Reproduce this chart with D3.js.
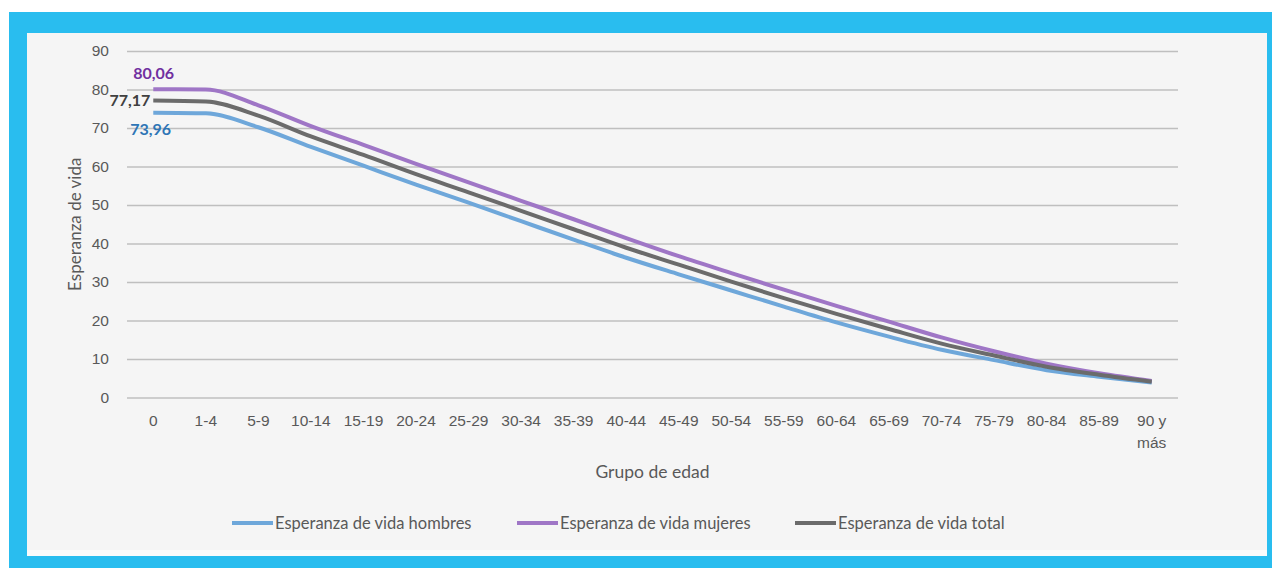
<!DOCTYPE html>
<html>
<head>
<meta charset="utf-8">
<script src="https://cdn.jsdelivr.net/npm/d3@7"></script>
<style>
body { margin:0; background:#fff; }
svg { display:block; font-family: Lato, "Open Sans", sans-serif; }
.grid line { stroke:#bfbfbf; stroke-width:1.5; }
.grid .domain { display:none; }
.axis text { fill:#595959; font-size:15.5px; }
</style>
</head>
<body>
<svg id="chart" width="1272" height="568"></svg>
<script>
var grupos = ["0","1-4","5-9","10-14","15-19","20-24","25-29","30-34","35-39","40-44","45-49","50-54","55-59","60-64","65-69","70-74","75-79","80-84","85-89","90 y más"];
var hombres = [73.96,73.8,70.2,65.1,60.2,55.3,50.6,45.8,41.0,36.3,32.0,27.8,23.6,19.5,15.8,12.4,9.7,7.1,5.4,3.9];
var mujeres = [80.06,80.0,75.9,70.5,65.6,60.7,55.9,51.1,46.3,41.4,36.7,32.3,28.0,23.8,19.7,15.6,12.0,8.8,6.3,4.3];
var total = [77.17,76.9,73.2,67.8,63.0,58.0,53.3,48.5,43.7,38.9,34.5,30.1,25.8,21.7,17.8,14.0,10.9,8.0,5.9,4.1];
var yTicks = [0,10,20,30,40,50,60,70,80,90];
var series = [
	{name:"Esperanza de vida hombres", values:hombres, color:"#6ea7da", label:"73,96", labelColor:"#2e75b6"},
	{name:"Esperanza de vida mujeres", values:mujeres, color:"#9f76c6", label:"80,06", labelColor:"#7030a0"},
	{name:"Esperanza de vida total", values:total, color:"#6b6b6b", label:"77,17", labelColor:"#404040"}
];

var svg = d3.select("#chart");

// marco azul y panel
svg.append("rect").attr("x",9).attr("y",12).attr("width",1263).attr("height",556).attr("fill","#29bdef");
svg.append("rect").attr("x",27).attr("y",33).attr("width",1240).attr("height",523).attr("fill","#fbfbfb");
svg.append("rect").attr("x",27).attr("y",33).attr("width",1240).attr("height",517).attr("fill","#f5f5f5");

var dim = {left:127, right:1178, top:51, bottom:397.5};

var x = d3.scaleBand().domain(grupos).range([dim.left, dim.right]).paddingInner(0);
var cx = function(d) { return x(d) + x.bandwidth()/2; };
var y = d3.scaleLinear().domain([0,90]).range([dim.bottom, dim.top]);

// grid + eje y
var gy = svg.append("g")
	.attr("class","grid axis")
	.attr("transform","translate(" + dim.left + ",0)")
	.call(d3.axisLeft(y).tickValues(yTicks).tickSize(-(dim.right-dim.left)).tickPadding(18));
gy.selectAll(".tick line").attr("stroke", function(d) { return d===0 ? "#d9d9d9" : "#bfbfbf"; });

// eje x
var gx = svg.append("g")
	.attr("class","axis")
	.attr("transform","translate(0," + dim.bottom + ")")
	.call(d3.axisBottom(x).tickSize(0).tickPadding(17));
gx.select(".domain").remove();
gx.selectAll(".tick text").each(function(d) {
	var t = d3.select(this);
	if (d.indexOf(" y ")>0) {
		var parts = d.split(" y ");
		t.text(null);
		t.append("tspan").attr("x",0).text(parts[0] + " y");
		t.append("tspan").attr("x",0).attr("dy","1.45em").text(parts[1]);
	}
});

// lineas
var line = d3.line()
	.x(function(d, i) { return cx(grupos[i]); })
	.y(function(d) { return y(d); })
	.curve(d3.curveMonotoneX);

series.forEach(function(s) {
	svg.append("path")
		.datum(s.values)
		.attr("fill","none")
		.attr("stroke",s.color)
		.attr("stroke-width",4)
		.attr("stroke-linejoin","round")
		.attr("d",line);
});

// etiquetas de datos
var x0 = cx(grupos[0]);
svg.append("text").attr("x",x0 - 20).attr("y",y(mujeres[0]) - 16).attr("dy","0.35em")
	.attr("fill",series[1].labelColor).attr("font-weight","bold").attr("font-size",16).text(series[1].label);
svg.append("text").attr("x",x0 - 3).attr("y",y(total[0])).attr("dy","0.35em").attr("text-anchor","end")
	.attr("fill",series[2].labelColor).attr("font-weight","bold").attr("font-size",16).text(series[2].label);
svg.append("text").attr("x",x0 - 23).attr("y",y(hombres[0]) + 17).attr("dy","0.35em")
	.attr("fill",series[0].labelColor).attr("font-weight","bold").attr("font-size",16).text(series[0].label);

// titulos
svg.append("text").attr("x",(dim.left+dim.right)/2).attr("y",472).attr("dy","0.35em")
	.attr("text-anchor","middle").attr("fill","#595959").attr("font-size",17.5).text("Grupo de edad");
svg.append("text").attr("transform","translate(75," + ((dim.top+dim.bottom)/2) + ") rotate(-90)")
	.attr("dy","0.35em").attr("text-anchor","middle").attr("fill","#595959").attr("font-size",17).text("Esperanza de vida");

// leyenda
var legX = [232, 517, 795];
var legend = svg.append("g").selectAll("g").data(series).enter().append("g")
	.attr("transform", function(d, i) { return "translate(" + legX[i] + ",523)"; });
legend.append("line").attr("x1",0).attr("x2",41).attr("stroke",function(d) { return d.color; }).attr("stroke-width",4);
legend.append("text").attr("x",43).attr("dy","0.35em").attr("fill","#595959").attr("font-size",16.5)
	.text(function(d) { return d.name; });
</script>
</body>
</html>
